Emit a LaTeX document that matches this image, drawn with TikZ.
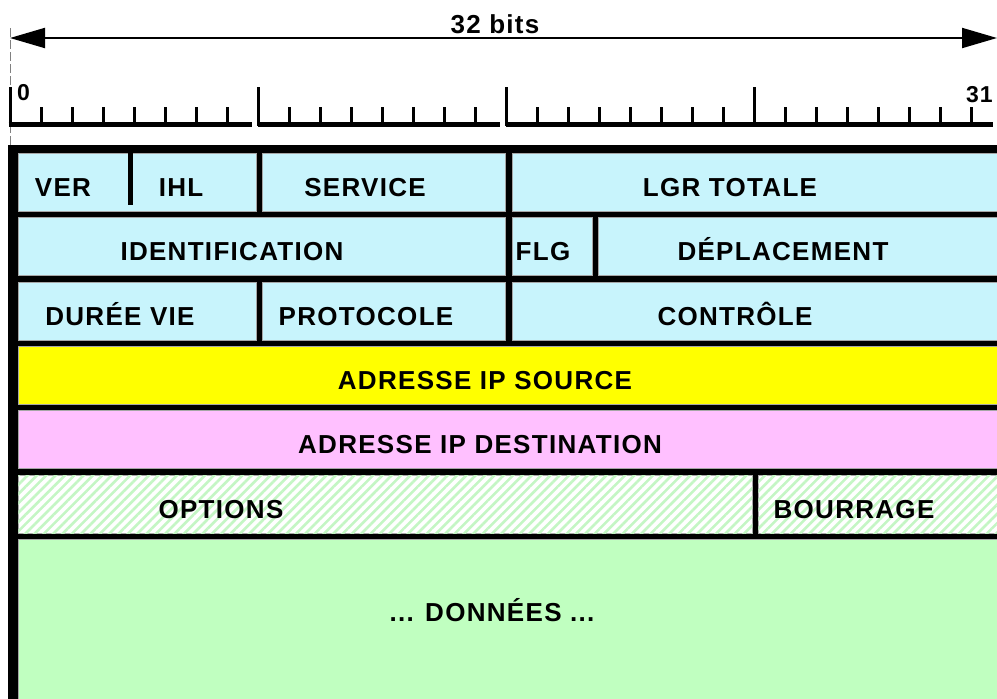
\documentclass[tikz,border=0pt]{standalone}
\usepackage{fontspec}
\newfontfamily\hdrfont{Liberation Sans}[LetterSpace=5]
\usetikzlibrary{arrows.meta,patterns.meta}

\definecolor{cyancell}{RGB}{200,244,252}
\definecolor{yellowcell}{RGB}{255,255,0}
\definecolor{pinkcell}{RGB}{255,192,255}
\definecolor{greencell}{RGB}{192,255,192}
\definecolor{hatchgreen}{RGB}{196,246,196}

\begin{document}
\begin{tikzpicture}[x=1pt,y=-1pt,
	cell/.style={draw=gray!70, line width=0.8pt, anchor=north west, inner sep=0pt, minimum height=58pt},
	hatched/.style={fill=white, postaction={pattern={Lines[angle=45,distance=6.6pt,line width=2.6pt]}, pattern color=hatchgreen}},
	txt/.style={font=\hdrfont\bfseries\fontsize{26}{30}\selectfont, anchor=base, inner sep=0pt},
	num/.style={font=\hdrfont\bfseries\fontsize{23}{27}\selectfont, inner sep=0pt},
	tick/.style={line width=3pt}]
	\useasboundingbox (0,0) rectangle (997,699);
	% width arrow
		\coordinate (aleft) at (10,38);
		\coordinate (aright) at (997,38);
		\draw[gray, line width=1pt, dash pattern=on 9pt off 3pt] (10,28) -- (10,145);
		\draw[line width=2pt, {Triangle[length=35pt,width=20pt]}-{Triangle[length=35pt,width=20pt]}] (aleft) -- (aright);
		\node[txt] (width) at (495,33) {32 bits};
	% bit ruler
		\draw[line width=5pt] (8.5,124.5) -- (252,124.5) (258,124.5) -- (500,124.5) (506,124.5) -- (993,124.5);
		\foreach \b in {0,8,16,24}
			\draw[tick] ({10+31*\b},87) -- ({10+31*\b},126);
		\foreach \b in {1,...,31}
			\draw[tick] ({10+31*\b},107) -- ({10+31*\b},126);
		\node[num, anchor=base west] (bit0) at (17,100) {0};
		\node[num, anchor=base east] (bit31) at (993,102) {31};
	% header
		\fill (8,145) rectangle (1010,710);
		\node[cell, fill=cyancell, minimum width=238pt] (verihl) at (18,153) {};
		\node[cell, fill=cyancell, minimum width=243pt] (service) at (262,153) {};
		\node[cell, fill=cyancell, minimum width=493pt] (lgr) at (512,153) {};
		\draw[line width=5pt] (130,150) -- (130,205);
		\node[cell, fill=cyancell, minimum width=487pt] (ident) at (18,217) {};
		\node[cell, fill=cyancell, minimum width=80pt] (flg) at (512,217) {};
		\node[cell, fill=cyancell, minimum width=407pt] (depl) at (598,217) {};
		\node[cell, fill=cyancell, minimum width=238pt] (ttl) at (18,282) {};
		\node[cell, fill=cyancell, minimum width=243pt] (proto) at (262,282) {};
		\node[cell, fill=cyancell, minimum width=493pt] (ctrl) at (512,282) {};
		\node[cell, fill=yellowcell, minimum width=987pt] (src) at (18,346) {};
		\node[cell, fill=pinkcell, minimum width=987pt] (dst) at (18,410) {};
		\node[cell, hatched, minimum width=734pt] (opt) at (18,475) {};
		\node[cell, hatched, minimum width=247pt] (pad) at (758,475) {};
		\node[cell, fill=greencell, minimum width=987pt, minimum height=170pt] (data) at (18,539) {};
	% field names
		\node[txt] (tver) at (63,196) {VER};
		\node[txt] (tihl) at (181,196) {IHL};
		\node[txt] (tservice) at (365,196) {SERVICE};
		\node[txt] (tlgr) at (730,196) {LGR TOTALE};
		\node[txt] (tident) at (232,260) {IDENTIFICATION};
		\node[txt] (tflg) at (543,260) {FLG};
		\node[txt] (tdepl) at (783,260) {DÉPLACEMENT};
		\node[txt] (tttl) at (120,325) {DURÉE VIE};
		\node[txt] (tproto) at (366,325) {PROTOCOLE};
		\node[txt] (tctrl) at (735,325) {CONTRÔLE};
		\node[txt] (tsrc) at (485,389) {ADRESSE IP SOURCE};
		\node[txt] (tdst) at (480,453) {ADRESSE IP DESTINATION};
		\node[txt] (topt) at (221,518) {OPTIONS};
		\node[txt] (tpad) at (854,518) {BOURRAGE};
		\node[txt] (tdata) at (492,621) {... DONNÉES ...};
\end{tikzpicture}
\end{document}
